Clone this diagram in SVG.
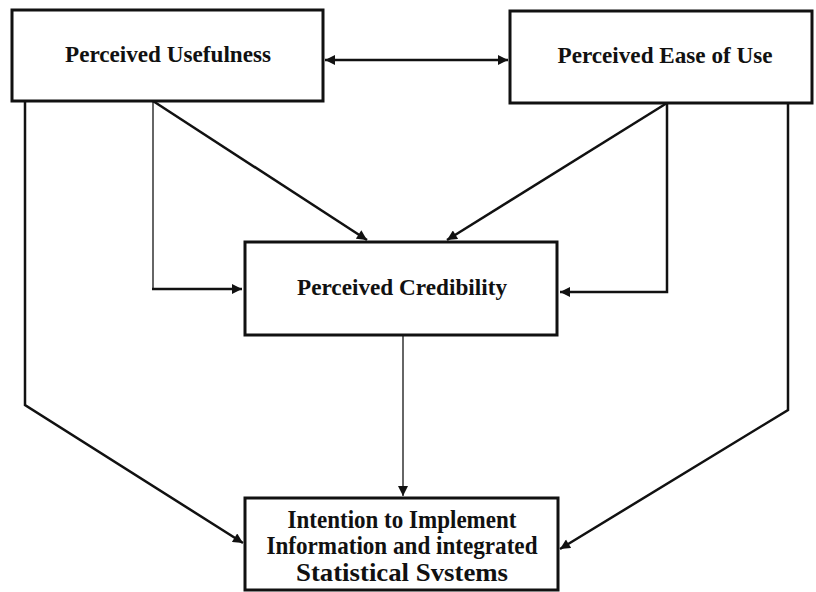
<svg xmlns="http://www.w3.org/2000/svg" width="816" height="592" viewBox="0 0 816 592">
<style>
.box{fill:#fff;stroke:#111;stroke-width:3}
.lbl{font-family:"Liberation Serif","Times New Roman",serif;font-weight:bold;font-size:23px;fill:#111;text-anchor:middle}
.big{font-size:25px}
.c{fill:none;stroke:#111;stroke-width:2.5}
.thin{fill:none;stroke:#333;stroke-width:1.5}
</style>
<defs>
<marker id="ah" viewBox="0 0 10 10" refX="10" refY="5" markerWidth="11" markerHeight="10" markerUnits="userSpaceOnUse" orient="auto-start-reverse">
<path d="M0,0 L10,5 L0,10 z" fill="#111"/>
</marker>
</defs>
<rect width="816" height="592" fill="#fff"/>
<g id="connectors">
<line class="c" x1="325" y1="60" x2="508" y2="60" marker-start="url(#ah)" marker-end="url(#ah)"/>
<line class="thin" x1="153" y1="101" x2="153" y2="290"/>
<line class="c" x1="152" y1="289" x2="242" y2="289" marker-end="url(#ah)"/>
<line class="c" x1="153" y1="101" x2="367" y2="240" marker-end="url(#ah)"/>
<line class="c" x1="667" y1="103" x2="447" y2="240" marker-end="url(#ah)"/>
<polyline class="c" points="667,103 667,292 560,292" marker-end="url(#ah)"/>
<polyline class="c" points="25,101 25,405 243,543" marker-end="url(#ah)"/>
<polyline class="c" points="788,103 788,410 560,549" marker-end="url(#ah)"/>
<line class="thin" x1="403" y1="335" x2="403" y2="496" marker-end="url(#ah)"/>
</g>
<g id="pu">
<rect class="box" x="12" y="10" width="311" height="91"/>
<text class="lbl" x="168" y="62" textLength="206" lengthAdjust="spacingAndGlyphs">Perceived Usefulness</text>
</g>
<g id="peou">
<rect class="box" x="510" y="11" width="302" height="92"/>
<text class="lbl" x="665" y="63" textLength="215" lengthAdjust="spacingAndGlyphs">Perceived Ease of Use</text>
</g>
<g id="pc">
<rect class="box" x="245" y="242" width="312" height="93"/>
<text class="lbl" x="402" y="295" textLength="210" lengthAdjust="spacingAndGlyphs">Perceived Credibility</text>
</g>
<g id="intent">
<rect class="box" x="245" y="498" width="313" height="92"/>
<text class="lbl big" x="402" y="528" textLength="229" lengthAdjust="spacingAndGlyphs">Intention to Implement</text>
<text class="lbl big" x="402" y="554" textLength="271" lengthAdjust="spacingAndGlyphs">Information and integrated</text>
<text class="lbl big" x="402" y="581" textLength="212" lengthAdjust="spacingAndGlyphs">Statistical Svstems</text>
</g>
</svg>
